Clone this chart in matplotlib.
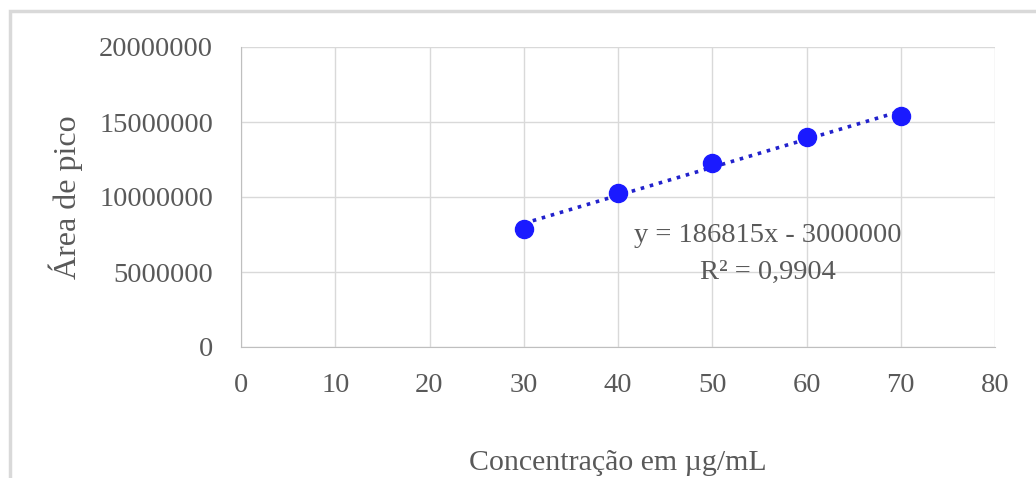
import matplotlib.pyplot as plt
import numpy as np
from matplotlib.patches import Rectangle

plt.rcParams['font.family'] = ['Liberation Serif', 'DejaVu Serif']

conc = [30, 40, 50, 60, 70]
area = [7900000, 10300000, 12300000, 14000000, 15400000]
eq_text = "y = 186815x - 3000000"
r2_text = "R² = 0,9904"

gray = '#595959'
fig = plt.figure(figsize=(10.36, 4.78), dpi=100)
ax = fig.add_axes([241 / 1036, 1 - 347 / 478, (995 - 241) / 1036, 300 / 478])

# outer frame like the excel chart area
fig.patches.append(Rectangle((10 / 1036, -0.1), 1.2, 1 - 11 / 478 + 0.1,
                             transform=fig.transFigure, fill=False,
                             edgecolor='#d9d9d9', linewidth=2.5))

# trend line
k, b = np.polyfit(conc, area, 1)
xs = np.array([conc[0], conc[-1]])
ax.plot(xs, k * xs + b, linestyle=(0, (1, 1.6)), color='#2222cc', linewidth=2.6, zorder=3)
ax.plot(conc, area, 'o', color='#1a1aff', markersize=13, zorder=4)

ax.set_xlim(0, 80)
ax.set_ylim(0, 20000000)
ax.set_xticks(range(0, 81, 10))
ax.set_yticks(range(0, 20000001, 5000000))
ax.set_yticklabels([str(v) for v in range(0, 20000001, 5000000)])
ax.grid(True, color='#d9d9d9', linewidth=1)
ax.set_axisbelow(True)
for s in ['top', 'right']:
    ax.spines[s].set_visible(False)
for s in ['left', 'bottom']:
    ax.spines[s].set_color('#bfbfbf')
ax.tick_params(length=0, labelsize=20.5, colors=gray)
ax.tick_params(axis='x', pad=19)
ax.tick_params(axis='y', pad=20)

ax.set_xlabel("Concentração em µg/mL", fontsize=21.5, color=gray, labelpad=37)
ax.set_ylabel("Área de pico", fontsize=23, color=gray, labelpad=12)

ax.text(55.9, 7450000, eq_text, ha='center', va='center', fontsize=20.5, color=gray)
ax.text(55.9, 4950000, r2_text, ha='center', va='center', fontsize=20.5, color=gray)

fig.savefig('out.png', dpi=100, facecolor='white')
